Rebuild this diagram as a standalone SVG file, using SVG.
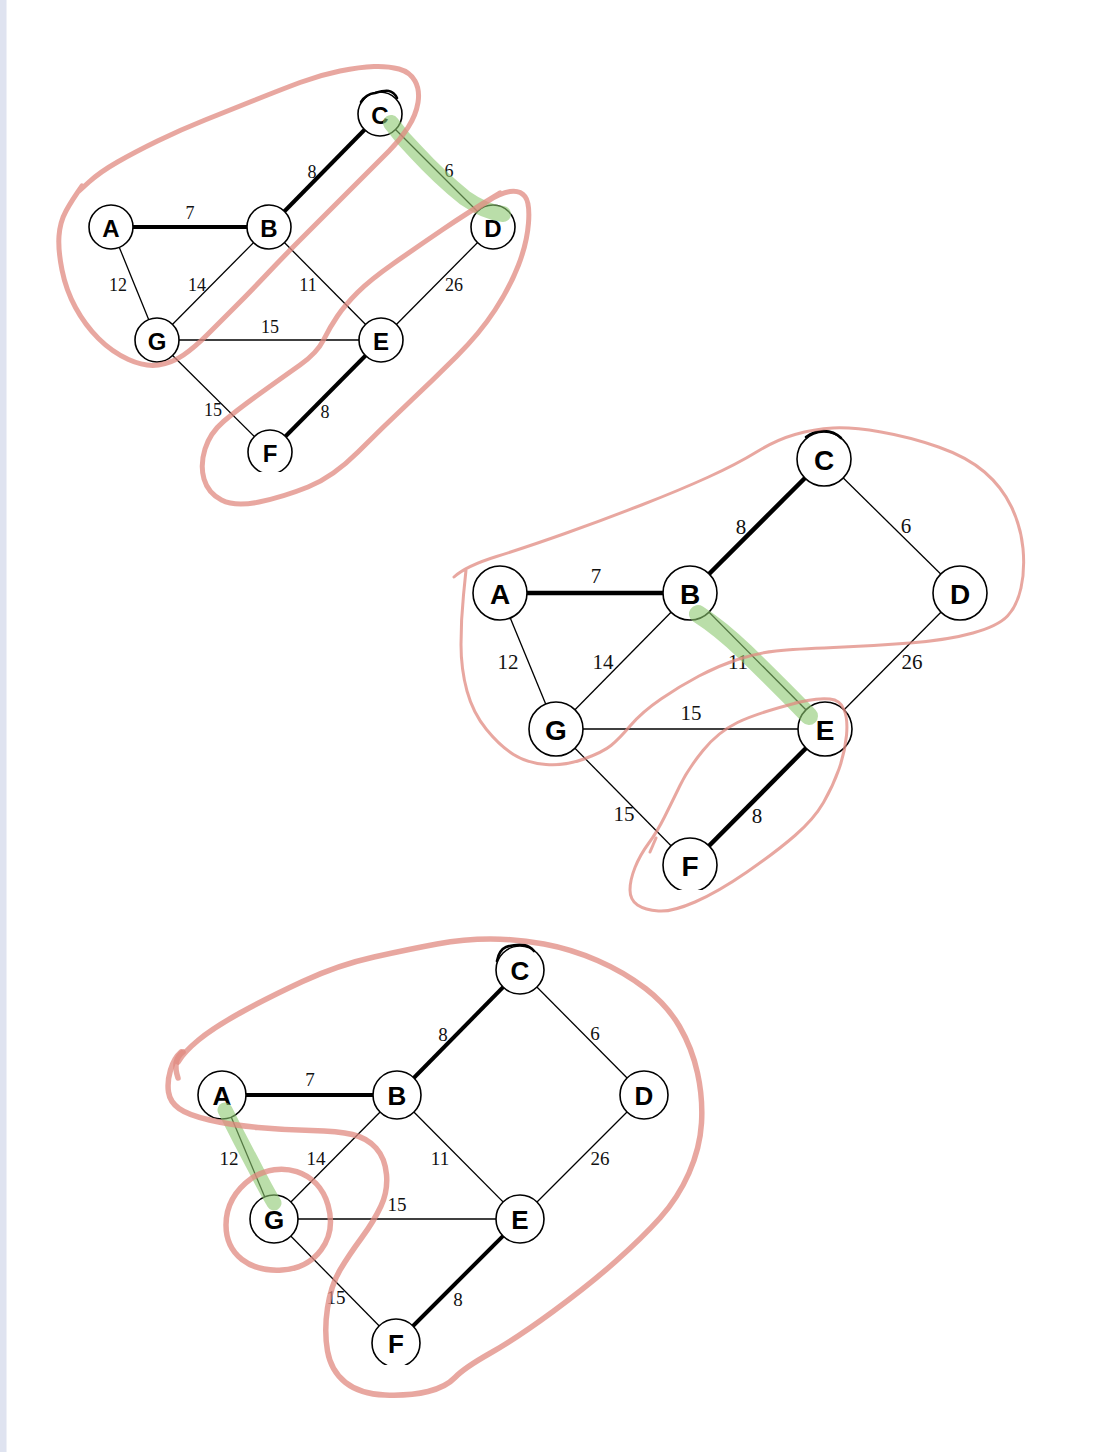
<svg xmlns="http://www.w3.org/2000/svg" width="1110" height="1452" viewBox="0 0 1110 1452">
<style>
.e{stroke:#000;stroke-width:1.3;fill:none}
.t{stroke:#000;stroke-width:4;fill:none}
.n{fill:#fff;stroke:#000;stroke-width:1.6}
.l1{font-family:"Liberation Serif",serif;font-size:18px;text-anchor:middle;dominant-baseline:central;fill:#111}
.l2{font-family:"Liberation Serif",serif;font-size:21px;text-anchor:middle;dominant-baseline:central;fill:#111}
.l3{font-family:"Liberation Serif",serif;font-size:19px;text-anchor:middle;dominant-baseline:central;fill:#111}
.k1{font-family:"Liberation Sans",Arial,sans-serif;font-weight:bold;font-size:24px;text-anchor:middle;dominant-baseline:central}
.k2{font-family:"Liberation Sans",Arial,sans-serif;font-weight:bold;font-size:28px;text-anchor:middle;dominant-baseline:central}
.k3{font-family:"Liberation Sans",Arial,sans-serif;font-weight:bold;font-size:26px;text-anchor:middle;dominant-baseline:central}
.red{fill:none;stroke:#e08a80;stroke-opacity:0.75;stroke-linecap:round;stroke-linejoin:round}
.grn{fill:none;stroke:#8cc870;stroke-opacity:0.6;stroke-linecap:round;stroke-linejoin:round}
.ov{fill:none;stroke:#000;stroke-width:2.6;stroke-linecap:round}
.cut{fill:#fff}
</style>
<rect x="0" y="0" width="1110" height="1452" fill="#fff"/>
<rect x="0" y="0" width="6" height="1452" fill="#dfe3f0"/>
<rect x="6" y="0" width="1" height="1452" fill="#eef0f7"/>

<!-- Graph 1 -->
<g id="graph1-edges">
<line class="t" x1="111" y1="227" x2="269" y2="227"/>
<line class="t" x1="269" y1="227" x2="380" y2="114"/>
<line class="e" x1="380" y1="114" x2="493" y2="227"/>
<line class="e" x1="111" y1="227" x2="157" y2="340"/>
<line class="e" x1="269" y1="227" x2="157" y2="340"/>
<line class="e" x1="269" y1="227" x2="381" y2="340"/>
<line class="e" x1="493" y1="227" x2="381" y2="340"/>
<line class="e" x1="157" y1="340" x2="381" y2="340"/>
<line class="e" x1="157" y1="340" x2="270" y2="452"/>
<line class="t" x1="381" y1="340" x2="270" y2="452"/>
<text class="l1" x="190" y="213">7</text>
<text class="l1" x="312" y="172">8</text>
<text class="l1" x="449" y="171">6</text>
<text class="l1" x="118" y="285">12</text>
<text class="l1" x="197" y="285">14</text>
<text class="l1" x="308" y="285">11</text>
<text class="l1" x="454" y="285">26</text>
<text class="l1" x="270" y="327">15</text>
<text class="l1" x="213" y="410">15</text>
<text class="l1" x="325" y="412">8</text>
</g>
<g id="g1-A"><circle class="n" cx="111" cy="227" r="22"/><text class="k1" x="111" y="228">A</text></g>
<g id="g1-B"><circle class="n" cx="269" cy="227" r="22"/><text class="k1" x="269" y="228">B</text></g>
<g id="g1-C"><circle class="n" cx="380" cy="114" r="22"/><text class="k1" x="380" y="115">C</text><path class="ov" d="M 361 102 Q 366 94 375 93 Q 385 90 389 91 Q 394 92 397 98"/></g>
<g id="g1-D"><circle class="n" cx="493" cy="227" r="22"/><text class="k1" x="493" y="228">D</text></g>
<g id="g1-G"><circle class="n" cx="157" cy="340" r="22"/><text class="k1" x="157" y="341">G</text></g>
<g id="g1-E"><circle class="n" cx="381" cy="340" r="22"/><text class="k1" x="381" y="341">E</text></g>
<g id="g1-F"><circle class="n" cx="270" cy="452" r="22"/><text class="k1" x="270" y="453">F</text><rect class="cut" x="255" y="472" width="30" height="4"/></g>

<!-- Graph 2 -->
<g id="graph2-edges">
<line class="t" x1="500" y1="593" x2="690" y2="593" style="stroke-width:4.5"/>
<line class="t" x1="690" y1="593" x2="824" y2="459" style="stroke-width:4.5"/>
<line class="e" x1="824" y1="459" x2="960" y2="593"/>
<line class="e" x1="500" y1="593" x2="556" y2="729"/>
<line class="e" x1="690" y1="593" x2="556" y2="729"/>
<line class="e" x1="690" y1="593" x2="825" y2="729"/>
<line class="e" x1="960" y1="593" x2="825" y2="729"/>
<line class="e" x1="556" y1="729" x2="825" y2="729"/>
<line class="e" x1="556" y1="729" x2="690" y2="865"/>
<line class="t" x1="825" y1="729" x2="690" y2="865" style="stroke-width:4.5"/>
<text class="l2" x="596" y="576">7</text>
<text class="l2" x="741" y="527">8</text>
<text class="l2" x="906" y="526">6</text>
<text class="l2" x="508" y="662">12</text>
<text class="l2" x="603" y="662">14</text>
<text class="l2" x="738" y="662">11</text>
<text class="l2" x="912" y="662">26</text>
<text class="l2" x="691" y="713">15</text>
<text class="l2" x="624" y="814">15</text>
<text class="l2" x="757" y="816">8</text>
</g>
<g id="g2-A"><circle class="n" cx="500" cy="593" r="27"/><text class="k2" x="500" y="594">A</text></g>
<g id="g2-B"><circle class="n" cx="690" cy="593" r="27"/><text class="k2" x="690" y="594">B</text></g>
<g id="g2-C"><circle class="n" cx="824" cy="459" r="27"/><text class="k2" x="824" y="460">C</text><path class="ov" d="M 806 437 Q 814 431 824 431 Q 834 431 841 438"/></g>
<g id="g2-D"><circle class="n" cx="960" cy="593" r="27"/><text class="k2" x="960" y="594">D</text></g>
<g id="g2-G"><circle class="n" cx="556" cy="729" r="27"/><text class="k2" x="556" y="730">G</text></g>
<g id="g2-E"><circle class="n" cx="825" cy="729" r="27"/><text class="k2" x="825" y="730">E</text></g>
<g id="g2-F"><circle class="n" cx="690" cy="865" r="27"/><text class="k2" x="690" y="866">F</text><rect class="cut" x="672" y="890" width="36" height="4"/></g>

<!-- Graph 3 -->
<g id="graph3-edges">
<line class="t" x1="222" y1="1095" x2="397" y2="1095"/>
<line class="t" x1="397" y1="1095" x2="520" y2="970"/>
<line class="e" x1="520" y1="970" x2="644" y2="1095"/>
<line class="e" x1="222" y1="1095" x2="274" y2="1219"/>
<line class="e" x1="397" y1="1095" x2="274" y2="1219"/>
<line class="e" x1="397" y1="1095" x2="520" y2="1219"/>
<line class="e" x1="644" y1="1095" x2="520" y2="1219"/>
<line class="e" x1="274" y1="1219" x2="520" y2="1219"/>
<line class="e" x1="274" y1="1219" x2="396" y2="1343"/>
<line class="t" x1="520" y1="1219" x2="396" y2="1343"/>
<text class="l3" x="310" y="1079">7</text>
<text class="l3" x="443" y="1034">8</text>
<text class="l3" x="595" y="1033">6</text>
<text class="l3" x="229" y="1158">12</text>
<text class="l3" x="316" y="1158">14</text>
<text class="l3" x="440" y="1158">11</text>
<text class="l3" x="600" y="1158">26</text>
<text class="l3" x="397" y="1204">15</text>
<text class="l3" x="336" y="1297">15</text>
<text class="l3" x="458" y="1299">8</text>
</g>
<g id="g3-A"><circle class="n" cx="222" cy="1095" r="24"/><text class="k3" x="222" y="1096">A</text></g>
<g id="g3-B"><circle class="n" cx="397" cy="1095" r="24"/><text class="k3" x="397" y="1096">B</text></g>
<g id="g3-C"><circle class="n" cx="520" cy="970" r="24"/><text class="k3" x="520" y="971">C</text><path class="ov" d="M 497 961 Q 499 950 506 947 Q 515 944 524 945 Q 530 946 534 951"/></g>
<g id="g3-D"><circle class="n" cx="644" cy="1095" r="24"/><text class="k3" x="644" y="1096">D</text></g>
<g id="g3-G"><circle class="n" cx="274" cy="1219" r="24"/><text class="k3" x="274" y="1220">G</text></g>
<g id="g3-E"><circle class="n" cx="520" cy="1219" r="24"/><text class="k3" x="520" y="1220">E</text></g>
<g id="g3-F"><circle class="n" cx="396" cy="1343" r="24"/><text class="k3" x="396" y="1344">F</text><rect class="cut" x="380" y="1365" width="32" height="4"/></g>

<!-- Annotations -->
<g id="annotations">
<path class="grn" stroke-width="16" d="M 391 123 Q 402 138 416 152 Q 440 178 465 198 Q 485 212 503 214"/>
<path class="red" stroke-width="5" d="M 82 186 Q 72 200 66 211 Q 60 222 59 236 Q 58 250 62 270 Q 66 290 75.5 307.5 Q 85 325 98.5 338.5 Q 112 352 128.5 359.5 Q 145 367 158.5 365 Q 172 363 183.5 355 Q 195 347 207.5 334.5 Q 220 322 235 307 Q 250 292 267.5 273.5 Q 285 255 302.5 237.5 Q 320 220 335 205 Q 350 190 364 176 Q 378 162 389 151 Q 400 140 408 127.5 Q 416 115 418 102.5 Q 420 90 415 81 Q 410 72 399 69 Q 388 66 374 66.5 Q 360 67 340 71 Q 320 75 300 82.5 Q 280 90 255 100 Q 230 110 205 120 Q 180 130 157.5 141 Q 135 152 117.5 162 Q 100 172 89 182 L 78 192"/>
<path class="red" stroke-width="5" d="M 500 193 Q 467 213 442 230 Q 417 247 393.5 263.5 Q 370 280 357.5 292.5 Q 345 305 337.5 316 Q 330 327 323.5 340 Q 317 353 300 365 Q 283 377 260 393.5 Q 237 410 223.5 421.5 Q 210 433 205 449 Q 200 465 204 479 Q 208 493 221.5 500 Q 235 507 259 502 Q 283 497 308 487 Q 333 477 358 452 Q 383 427 408 403.5 Q 433 380 456.5 356.5 Q 480 333 495 310 Q 510 287 518.5 265 Q 527 243 528.5 223 Q 530 203 525 196.5 Q 520 190 510 191.5 Q 500 193 487.5 201.5 L 475 210"/>

<path class="grn" stroke-width="18" d="M 698 614 Q 720 628 745 652 Q 780 686 809 716"/>
<path class="red" stroke-width="3" d="M 454 577 Q 466 566 496.5 556.5 Q 527 547 565 533.5 Q 603 520 641.5 505 Q 680 490 708.5 477 Q 737 464 756.5 452 Q 776 440 795 434.5 Q 814 429 833 428 Q 852 427 881 432 Q 910 437 938.5 447 Q 967 457 984.5 472 Q 1002 487 1011.5 507 Q 1021 527 1023 548.5 Q 1025 570 1021 588 Q 1017 606 1007.5 616 Q 998 626 973 633 Q 948 640 910 643 Q 872 646 833.5 647.5 Q 795 649 776 651 Q 757 653 737.5 659.5 Q 718 666 699 676 Q 680 686 661 699 Q 642 712 630.5 725.5 Q 619 739 611 745.5 Q 603 752 584 759 Q 565 766 546 764.5 Q 527 763 513.5 754.5 Q 500 746 486.5 729.5 Q 473 713 467 691 Q 461 669 461 644.5 Q 461 620 463.5 595 L 466 570"/>
<path class="red" stroke-width="3" d="M 800 702 Q 757 713 737.5 722.5 Q 718 732 703 750.5 Q 688 769 680 785.5 Q 672 802 664.5 817 Q 657 832 648.5 843.5 Q 640 855 635 867.5 Q 630 880 630 890 Q 630 900 637.5 905 Q 645 910 658.5 911 Q 672 912 695 902 Q 718 892 747 872 Q 776 852 795 835.5 Q 814 819 823.5 802.5 Q 833 786 839 769 Q 845 752 846.5 735.5 Q 848 719 844 709.5 Q 840 700 830 699 Q 820 698 807.5 700.5 L 795 703"/>
<path class="red" stroke-width="3" d="M 650 852 L 656 838"/>

<path class="grn" stroke-width="15" d="M 225 1110 Q 240 1140 255 1168 Q 265 1188 274 1203"/>
<path class="red" stroke-width="5.5" d="M 181 1052 Q 174 1058 170.5 1070 Q 167 1082 168.5 1092 Q 170 1102 179 1108.5 Q 188 1115 209.5 1120 Q 231 1125 258 1127.5 Q 285 1130 311.5 1130.5 Q 338 1131 352.5 1134.5 Q 367 1138 376 1148 Q 385 1158 386.5 1174.5 Q 388 1191 381 1206 Q 374 1221 361.5 1238 Q 349 1255 340 1270 Q 331 1285 327.5 1308 Q 324 1331 327.5 1351 Q 331 1371 345.5 1382.5 Q 360 1394 385 1395 Q 410 1396 428 1391.5 Q 446 1387 455 1377.5 Q 464 1368 490.5 1353 Q 517 1338 553 1311.5 Q 589 1285 615.5 1261.5 Q 642 1238 660 1218 Q 678 1198 689 1173 Q 700 1148 701.5 1123 Q 703 1098 697.5 1073 Q 692 1048 679.5 1026.5 Q 667 1005 645.5 988.5 Q 624 972 597.5 960.5 Q 571 949 544 944 Q 517 939 490.5 939 Q 464 939 437 944 Q 410 949 374 957 Q 338 965 302.5 981.5 Q 267 998 240 1013 Q 213 1028 198.5 1040 Q 184 1052 178 1062"/>
<path class="red" stroke-width="5.5" d="M 178 1078 Q 172 1060 183 1052"/>
<path class="red" stroke-width="5.5" d="M 252 1178 C 280 1160 318 1170 328 1205 C 338 1240 315 1268 282 1270 C 250 1272 226 1255 226 1225 C 226 1203 238 1188 252 1178"/>
</g>
</svg>
